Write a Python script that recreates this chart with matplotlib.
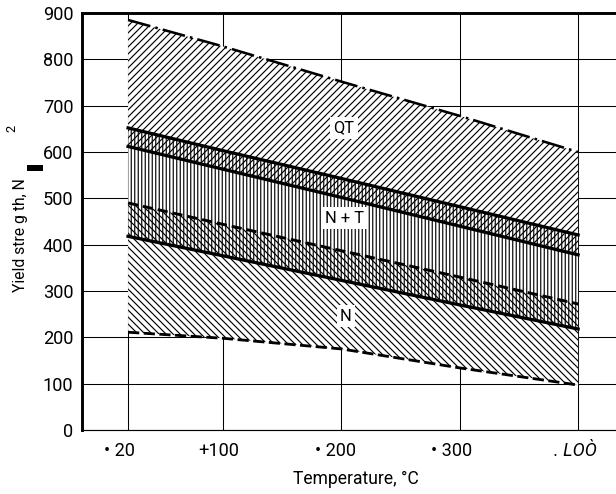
"""Yield strength bands of QT, N+T and N steels against temperature."""
import matplotlib
matplotlib.use('Agg')
import matplotlib.pyplot as plt
from matplotlib.patches import Rectangle
from matplotlib.transforms import ScaledTranslation


temps = [20, 100, 200, 300, 400]

qt_upper = [885, 828, 752, 678, 600]
nt_upper = [652, 603, 543, 482, 421]
qt_lower = [612, 563, 502, 440, 378]
n_upper = [490, 444, 387, 330, 272]
nt_lower = [418, 376, 323, 270, 218]
n_lower = [211, 198, 175, 134, 97]

x_ticks = [20, 100, 200, 300, 400]
x_tick_labels = ['\u2022 20', '+100', '\u2022 200', '\u2022 300', '. LO\u00d2']
y_ticks = [0, 100, 200, 300, 400, 500, 600, 700, 800, 900]

DPI = 84
W, H = 616, 494

plt.rcParams['font.family'] = ['Roboto', 'DejaVu Sans']
plt.rcParams['hatch.linewidth'] = 1.0
plt.rcParams['hatch.color'] = 'black'

fig = plt.figure(figsize=(W / DPI, H / DPI), dpi=DPI)
ax = fig.add_axes([82 / W, (H - 430) / H, (W - 82) / W, 417 / H])

ax.set_xlim(-18.9, 432)
ax.set_ylim(0, 900)

# grid sits underneath, the white band hides it
ax.set_axisbelow(True)
ax.grid(True, color='black', linewidth=0.9)
ax.fill_between(temps, n_lower, qt_upper, facecolor='white', linewidth=0, zorder=1)

# hatched bands
ax.fill_between(temps, qt_lower, qt_upper, facecolor='none', edgecolor='black',
                hatch='////', linewidth=0, zorder=1.2)
ax.fill_between(temps, nt_lower, nt_upper, facecolor='none', edgecolor='black',
                hatch='||||', linewidth=0, zorder=1.2)
ax.fill_between(temps, n_lower, n_upper, facecolor='none', edgecolor='black',
                hatch='\\\\\\\\', linewidth=0, zorder=1.2)

# band boundaries
ax.plot(temps, qt_upper, color='black', lw=2.2, dashes=[9, 2, 1, 2], zorder=3)
ax.plot(temps, nt_upper, color='black', lw=2.8, zorder=3)
ax.plot(temps, qt_lower, color='black', lw=2.8, zorder=3)
ax.plot(temps, n_upper, color='black', lw=2.5, dashes=[3.5, 1.7], zorder=3)
ax.plot(temps, nt_lower, color='black', lw=2.8, zorder=3)
ax.plot(temps, n_lower, color='black', lw=2.4, dashes=[4, 1.6], zorder=3)

box = dict(facecolor='white', edgecolor='none', pad=3)
ax.text(202, 652, 'QT', fontsize=14, ha='center', va='center', bbox=box, zorder=4)
ax.text(203, 457, 'N + T', fontsize=14, ha='center', va='center', bbox=box, zorder=4)
ax.text(204, 246, 'N', fontsize=14, ha='center', va='center', bbox=box, zorder=4)

ax.set_xticks(x_ticks)
ax.set_xticklabels(x_tick_labels, fontsize=15.5)
ax.set_yticks(y_ticks)
ax.set_yticklabels([str(v) for v in y_ticks], fontsize=15.5)
ax.tick_params(axis='both', length=0)
ax.tick_params(axis='y', pad=7.5)
ax.tick_params(axis='x', pad=10)

offsets = [-9, -4, -6, -8, -3]
for lab, dx in zip(ax.get_xticklabels(), offsets):
    lab.set_transform(lab.get_transform() + ScaledTranslation(dx / DPI, 0, fig.dpi_scale_trans))
ax.get_xticklabels()[-1].set_fontstyle('italic')

ax.spines['right'].set_visible(False)
ax.spines['left'].set_linewidth(2.5)
ax.spines['top'].set_linewidth(2.5)
ax.spines['bottom'].set_linewidth(1.0)

# axis titles placed in pixel terms
fig.text(356 / W, 1 - 479 / H, 'Temperature, \u00b0C', fontsize=15,
         ha='center', va='center')
fig.text(21 / W, 1 - 235 / H, 'Yield stre g th, N', fontsize=13.5,
         rotation=90, ha='center', va='center')
fig.add_artist(Rectangle((27 / W, 1 - 171 / H), 16 / W, 6 / H,
                         transform=fig.transFigure, facecolor='black', edgecolor='none'))
fig.text(12 / W, 1 - 128 / H, '2', fontsize=11, rotation=90, ha='center', va='center')

fig.savefig('out.png', dpi=DPI)
